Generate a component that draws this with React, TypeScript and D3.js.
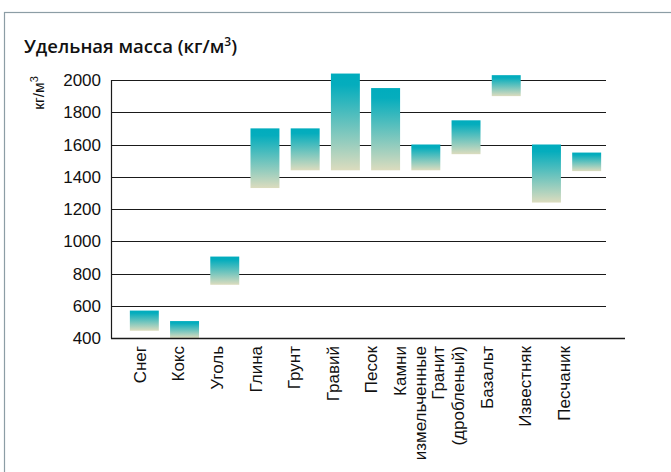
import { useEffect, useRef } from 'react';
import * as d3 from 'd3';

// ─── Data ─────────────────────────────────────────────────
const materials = [
  'Снег', 'Кокс', 'Уголь', 'Глина', 'Грунт', 'Гравий', 'Песок',
  'Камни\nизмельченные', 'Гранит\n(дробленый)', 'Базальт', 'Известняк', 'Песчаник',
];
const lowValues = [445, 400, 730, 1330, 1440, 1440, 1440, 1440, 1540, 1900, 1240, 1435];
const highValues = [570, 505, 905, 1700, 1700, 2040, 1950, 1600, 1750, 2030, 1600, 1550];
const yTicks = [400, 600, 800, 1000, 1200, 1400, 1600, 1800, 2000];

const W = 671;
const H = 472;

export default function App() {
  const svgRef = useRef<SVGSVGElement>(null);

  useEffect(() => {
    if (!svgRef.current) return;
    const svg = d3.select(svgRef.current);
    svg.selectAll('*').remove();

    // ─── Gradient ────────────────────────────────────────
    const grad = svg.append('defs').append('linearGradient')
      .attr('id', 'barGrad').attr('x1', 0).attr('y1', 0).attr('x2', 0).attr('y2', 1);
    grad.append('stop').attr('offset', '0').attr('stop-color', '#00acbd');
    grad.append('stop').attr('offset', '0.12').attr('stop-color', '#05adbd');
    grad.append('stop').attr('offset', '1').attr('stop-color', '#dcdcbe');

    // ─── Frame ───────────────────────────────────────────
    svg.append('rect')
      .attr('x', 4.5).attr('y', 12.5).attr('width', 800).attr('height', 600)
      .attr('fill', 'none').attr('stroke', '#8c9da5').attr('stroke-width', 1.2);

    // ─── Title ───────────────────────────────────────────
    const title = svg.append('text')
      .attr('x', 24).attr('y', 53)
      .attr('font-family', '"Open Sans", sans-serif')
      .attr('font-weight', 600).attr('font-size', 18.5)
      .attr('fill', '#111');
    title.append('tspan').text('Удельная масса (кг/м');
    title.append('tspan').attr('font-size', 12).attr('dy', -7).text('3');
    title.append('tspan').attr('dy', 7).text(')');

    // ─── Scales ──────────────────────────────────────────
    const y = d3.scaleLinear().domain([400, 2000]).range([338, 80]);
    const x = d3.scaleBand<string>()
      .domain(materials).range([119, 612])
      .paddingInner(0.28).paddingOuter(0.27);
    const xLabel = d3.scalePoint<string>().domain(materials).range([140, 564]);

    const font = '"Liberation Sans", Arial, sans-serif';

    // ─── Grid ────────────────────────────────────────────
    svg.append('g').selectAll('line')
      .data(yTicks.filter((t) => t > 400))
      .join('line')
      .attr('x1', 111).attr('x2', 606)
      .attr('y1', (d) => Math.round(y(d)) + 0.5).attr('y2', (d) => Math.round(y(d)) + 0.5)
      .attr('stroke', '#1a1a1a').attr('stroke-width', 1);

    // ─── Bars ────────────────────────────────────────────
    svg.append('g').selectAll('rect')
      .data(materials)
      .join('rect')
      .attr('x', (d) => x(d)!)
      .attr('width', x.bandwidth())
      .attr('y', (_d, i) => y(highValues[i]))
      .attr('height', (_d, i) => y(lowValues[i]) - y(highValues[i]))
      .attr('fill', 'url(#barGrad)');

    // ─── Axes lines ──────────────────────────────────────
    svg.append('line')
      .attr('x1', 111.5).attr('x2', 111.5).attr('y1', 80).attr('y2', 338.5)
      .attr('stroke', '#1a1a1a').attr('stroke-width', 1.2);
    svg.append('line')
      .attr('x1', 111).attr('x2', 625).attr('y1', 338.5).attr('y2', 338.5)
      .attr('stroke', '#1a1a1a').attr('stroke-width', 1.4);

    // ─── Y tick labels ───────────────────────────────────
    svg.append('g').selectAll('text')
      .data(yTicks)
      .join('text')
      .attr('x', 101).attr('y', (d) => y(d))
      .attr('dy', '0.36em')
      .attr('text-anchor', 'end')
      .attr('font-family', font).attr('font-size', 17)
      .attr('fill', '#111')
      .text((d) => d);

    // ─── Y unit label ────────────────────────────────────
    const unit = svg.append('text')
      .attr('transform', 'translate(44, 93) rotate(-90)')
      .attr('text-anchor', 'middle')
      .attr('font-family', font).attr('font-size', 15.5)
      .attr('fill', '#111');
    unit.append('tspan').text('кг/м');
    unit.append('tspan').attr('font-size', 11).attr('dy', -6).text('3');

    // ─── X labels ────────────────────────────────────────
    const lbl = svg.append('g').selectAll('text')
      .data(materials)
      .join('text')
      .attr('transform', (d) => `translate(${xLabel(d)}, 346) rotate(-90)`)
      .attr('text-anchor', 'end')
      .attr('font-family', font).attr('font-size', 17)
      .attr('fill', '#111');
    lbl.each(function (d) {
      const lines = d.split('\n');
      const t = d3.select(this);
      lines.forEach((ln, i) => {
        t.append('tspan')
          .attr('x', 0)
          .attr('y', (i - (lines.length - 1) / 2) * 20)
          .attr('dy', '0.35em')
          .text(ln);
      });
    });
  }, []);

  return (
    <svg
      ref={svgRef}
      width={W}
      height={H}
      style={{ position: 'absolute', left: 0, top: 0, background: '#fff' }}
    />
  );
}
